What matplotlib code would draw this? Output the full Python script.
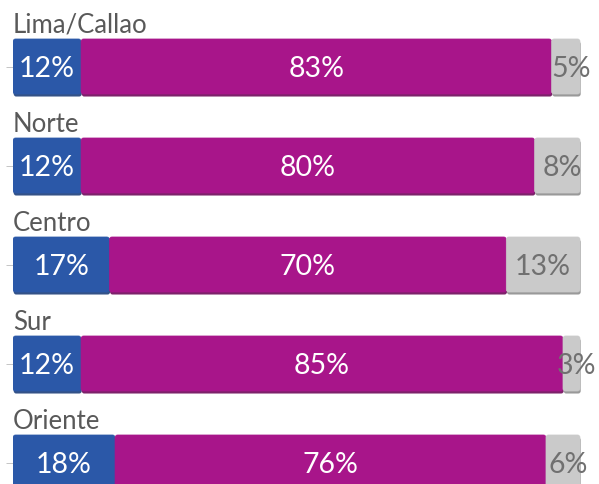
import numpy as np
import matplotlib
matplotlib.use("Agg")
import matplotlib.pyplot as plt
import matplotlib.patheffects as pe
from matplotlib.patches import FancyBboxPatch

# ================== DATA ==================

regions = ["Lima/Callao", "Norte", "Centro", "Sur", "Oriente"]
blue_vals = [12, 12, 17, 12, 18]
magenta_vals = [83, 80, 70, 85, 76]
gray_vals = [5, 8, 13, 3, 6]

BLUE = "#2B58A8"
MAGENTA = "#A8158A"
GRAY = "#CACACA"

plt.rcParams["font.family"] = ["Lato", "DejaVu Sans"]

# ================== PLOT ==================

fig = plt.figure(figsize=(5.99, 4.85), dpi=100)
ax = fig.add_axes([13 / 599, 0, 1 - 13 / 599, 1])

PX_X = 5.67   # pixels per x unit
PX_Y = 99.0   # pixels per y unit

y = np.arange(len(regions))
bar_h = 0.556

left = np.zeros(len(regions))
series = [(blue_vals, BLUE, "#1E3F7A", "white"),
          (magenta_vals, MAGENTA, "#6E0A5A", "white"),
          (gray_vals, GRAY, "#8E8E8E", "#707070")]
for vals, col, dark, tcol in series:
    bars = ax.barh(y, vals, left=left, height=bar_h, color=col, linewidth=0)
    for b in bars:
        b.set_visible(False)
        x0, y0, w, h = b.get_x(), b.get_y(), b.get_width(), b.get_height()
        box = FancyBboxPatch((x0, y0), w, h,
                             boxstyle="round,pad=0,rounding_size=0.45",
                             mutation_aspect=PX_X / PX_Y,
                             facecolor=col, edgecolor=col, linewidth=0.5, zorder=2)
        box.set_path_effects([pe.SimplePatchShadow(offset=(0.5, -1.8), shadow_rgbFace=dark, alpha=0.9),
                              pe.Normal()])
        ax.add_patch(box)
    for yi, l, v in zip(y, left, vals):
        xc = l + v / 2
        if col == GRAY and v < 10:
            xc += 0.9
        ax.text(xc, yi + 0.02, f"{v}%", ha="center", va="center",
                color=tcol, fontsize=20.5, zorder=5)
    left = left + np.array(vals)

for yi, name in zip(y, regions):
    ax.text(0, yi - 0.35, name, ha="left", va="baseline", color="#595959",
            fontsize=18.5, clip_on=False)

ax.set_xlim(0, (599 - 13) / PX_X)
ax.set_ylim((485 - 67.5) / PX_Y, -67.5 / PX_Y)
ax.set_yticks(y)
ax.set_yticklabels([])
ax.set_xticks([])
ax.tick_params(axis="y", direction="out", length=5, width=0.6, color="#BBBBBB")
for s in ax.spines.values():
    s.set_visible(False)
ax.patch.set_alpha(0)

fig.savefig("out.png", dpi=100)
